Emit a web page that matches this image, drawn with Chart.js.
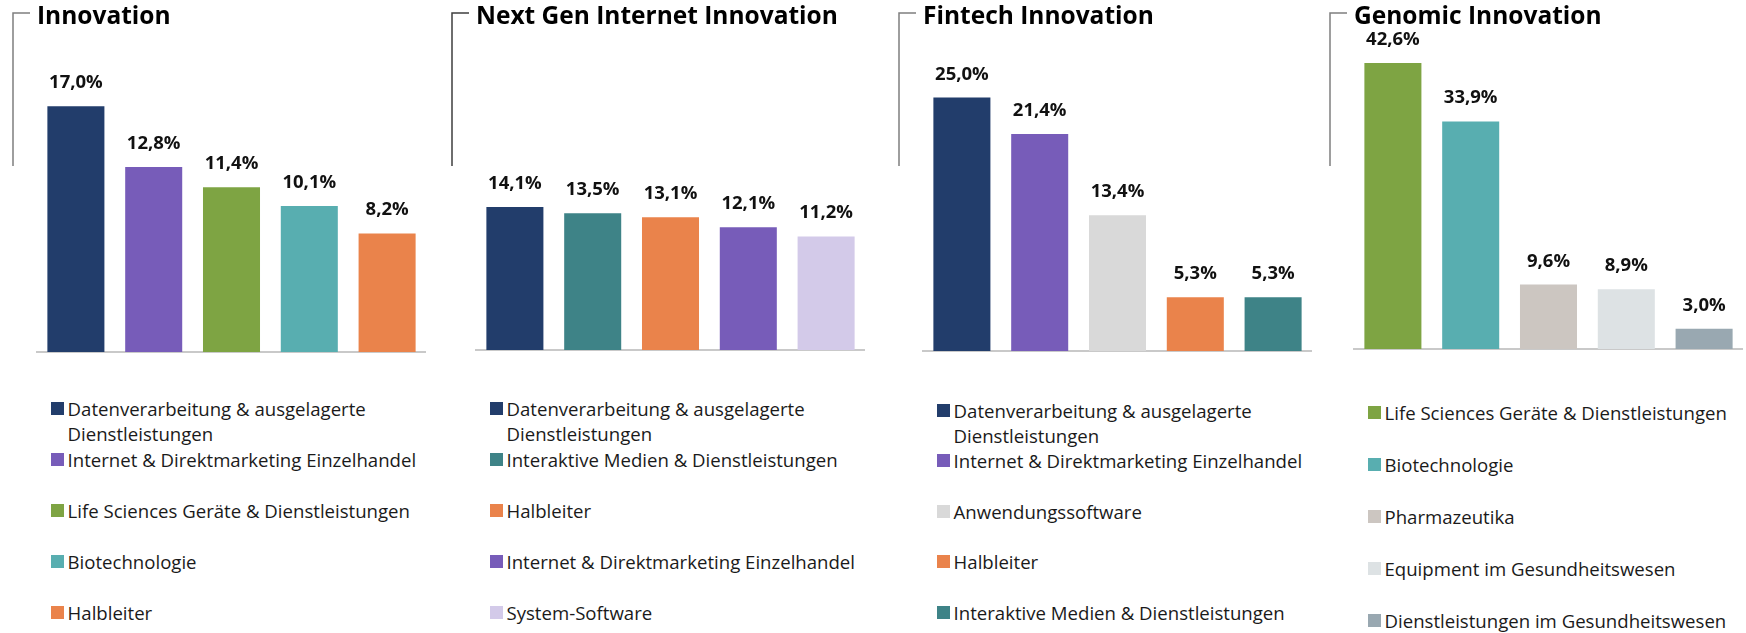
<!DOCTYPE html>
<html>
<head>
<meta charset="utf-8">
<script src="https://cdn.jsdelivr.net/npm/chart.js@4.4.1/dist/chart.umd.min.js"></script>
<style>
  body { margin: 0; background: #fff; width: 1746px; height: 633px; position: relative; overflow: hidden; font-family: "Open Sans", sans-serif; }
  canvas { position: absolute; top: 0; }
  .legend { position: absolute; top: 0; font-size: 18.6px; color: #1a1a1a; }
  .item { position: absolute; left: 0; display: flex; align-items: flex-start; line-height: 25px; }
  .item span.txt { width: 365px; }
  .sw { width: 13px; height: 13px; margin: 6px 4px 0 0; flex: none; }
</style>
</head>
<body>
<script>
// Titel der vier Fonds
var titles = ['Innovation', 'Next Gen Internet Innovation', 'Fintech Innovation', 'Genomic Innovation'];

// Sektoren und Gewichte (%)
var innovationLabels = ['Datenverarbeitung & ausgelagerte Dienstleistungen', 'Internet & Direktmarketing Einzelhandel', 'Life Sciences Geräte & Dienstleistungen', 'Biotechnologie', 'Halbleiter'];
var innovationValues = [17.0, 12.8, 11.4, 10.1, 8.2];

var nextGenLabels = ['Datenverarbeitung & ausgelagerte Dienstleistungen', 'Interaktive Medien & Dienstleistungen', 'Halbleiter', 'Internet & Direktmarketing Einzelhandel', 'System-Software'];
var nextGenValues = [14.1, 13.5, 13.1, 12.1, 11.2];

var fintechLabels = ['Datenverarbeitung & ausgelagerte Dienstleistungen', 'Internet & Direktmarketing Einzelhandel', 'Anwendungssoftware', 'Halbleiter', 'Interaktive Medien & Dienstleistungen'];
var fintechValues = [25.0, 21.4, 13.4, 5.3, 5.3];

var genomicLabels = ['Life Sciences Geräte & Dienstleistungen', 'Biotechnologie', 'Pharmazeutika', 'Equipment im Gesundheitswesen', 'Dienstleistungen im Gesundheitswesen'];
var genomicValues = [42.6, 33.9, 9.6, 8.9, 3.0];

// Farben je Sektor
var sectorColors = {
  'Datenverarbeitung & ausgelagerte Dienstleistungen': '#223d6b',
  'Internet & Direktmarketing Einzelhandel': '#775cb9',
  'Life Sciences Geräte & Dienstleistungen': '#7ea443',
  'Biotechnologie': '#58aeb0',
  'Halbleiter': '#ea834b',
  'Interaktive Medien & Dienstleistungen': '#3e8387',
  'System-Software': '#d3cae9',
  'Anwendungssoftware': '#d9d9d9',
  'Pharmazeutika': '#ccc6c1',
  'Equipment im Gesundheitswesen': '#dde2e4',
  'Dienstleistungen im Gesundheitswesen': '#99a8b1'
};

// Layout je Panel (left = linker Rand der Zeichenfläche, base = Grundlinie)
var panels = [
  { title: titles[0], labels: innovationLabels, values: innovationValues, left: 36.6, base: 352, yMax: 22.18, bracket: '#7f7f7f', legendTop: 408, legendGap: 51 },
  { title: titles[1], labels: nextGenLabels, values: nextGenValues, left: 475.5, base: 350, yMax: 31.43, bracket: '#3f3f3f', legendTop: 408, legendGap: 51 },
  { title: titles[2], labels: fintechLabels, values: fintechValues, left: 922.6, base: 351, yMax: 31.53, bracket: '#7f7f7f', legendTop: 410, legendGap: 50.5 },
  { title: titles[3], labels: genomicLabels, values: genomicValues, left: 1353.5, base: 349, yMax: 47.3, bracket: '#7f7f7f', legendTop: 412, legendGap: 52.2 }
];

var PAD_LEFT = 30;
var PLOT_W = 389;

// Klammer oben links
var bracketPlugin = {
  id: 'bracket',
  afterDraw: function(chart, args, opts) {
    var c = chart.ctx, x = chart.chartArea.left - 24;
    c.save();
    c.strokeStyle = opts.color;
    c.lineWidth = 1.5;
    c.beginPath();
    c.moveTo(x, 166);
    c.lineTo(x, 13);
    c.lineTo(x + 17, 13);
    c.stroke();
    c.restore();
  }
};

// Werte über den Balken
var valueLabels = {
  id: 'valueLabels',
  afterDatasetsDraw: function(chart) {
    var c = chart.ctx;
    var meta = chart.getDatasetMeta(0);
    var data = chart.data.datasets[0].data;
    c.save();
    c.font = 'bold 18.5px "Open Sans"';
    c.fillStyle = '#111';
    c.textAlign = 'center';
    c.textBaseline = 'alphabetic';
    meta.data.forEach(function(bar, i) {
      c.fillText(data[i].toFixed(1).replace('.', ',') + '%', bar.x, bar.y - 18);
    });
    c.restore();
  }
};

panels.forEach(function(p) {
  var canvas = document.createElement('canvas');
  canvas.width = PAD_LEFT + PLOT_W;
  canvas.height = p.base + 4;
  canvas.style.left = (p.left - PAD_LEFT) + 'px';
  document.body.appendChild(canvas);

  new Chart(canvas.getContext('2d'), {
    type: 'bar',
    data: {
      labels: p.labels,
      datasets: [{
        data: p.values,
        backgroundColor: p.labels.map(function(l) { return sectorColors[l]; }),
        barPercentage: 0.733,
        categoryPercentage: 1
      }]
    },
    options: {
      responsive: false,
      animation: false,
      layout: { padding: { left: PAD_LEFT, right: 0, top: 0, bottom: 4 } },
      scales: {
        x: {
          grid: { display: false, drawTicks: false },
          ticks: { display: false },
          border: { color: '#c9c9c9', width: 2 }
        },
        y: { display: false, min: 0, max: p.yMax }
      },
      plugins: {
        legend: { display: false },
        tooltip: { enabled: false },
        title: {
          display: true,
          text: p.title,
          align: 'start',
          color: '#000',
          font: { family: '"Open Sans"', size: 24.5, weight: 'bold', lineHeight: 1.2 },
          padding: { top: 2, bottom: 0 }
        },
        bracket: { color: p.bracket }
      }
    },
    plugins: [bracketPlugin, valueLabels]
  });

  // HTML-Legende aus denselben Arrays
  var legend = document.createElement('div');
  legend.className = 'legend';
  legend.style.left = (p.left + 14) + 'px';
  p.labels.forEach(function(l, i) {
    var item = document.createElement('div');
    item.className = 'item';
    item.style.top = (p.legendTop + i * p.legendGap - 12.5) + 'px';
    var sw = document.createElement('span');
    sw.className = 'sw';
    sw.style.background = sectorColors[l];
    var txt = document.createElement('span');
    txt.className = 'txt';
    txt.textContent = l;
    item.appendChild(sw);
    item.appendChild(txt);
    legend.appendChild(item);
  });
  document.body.appendChild(legend);
});
</script>
</body>
</html>
